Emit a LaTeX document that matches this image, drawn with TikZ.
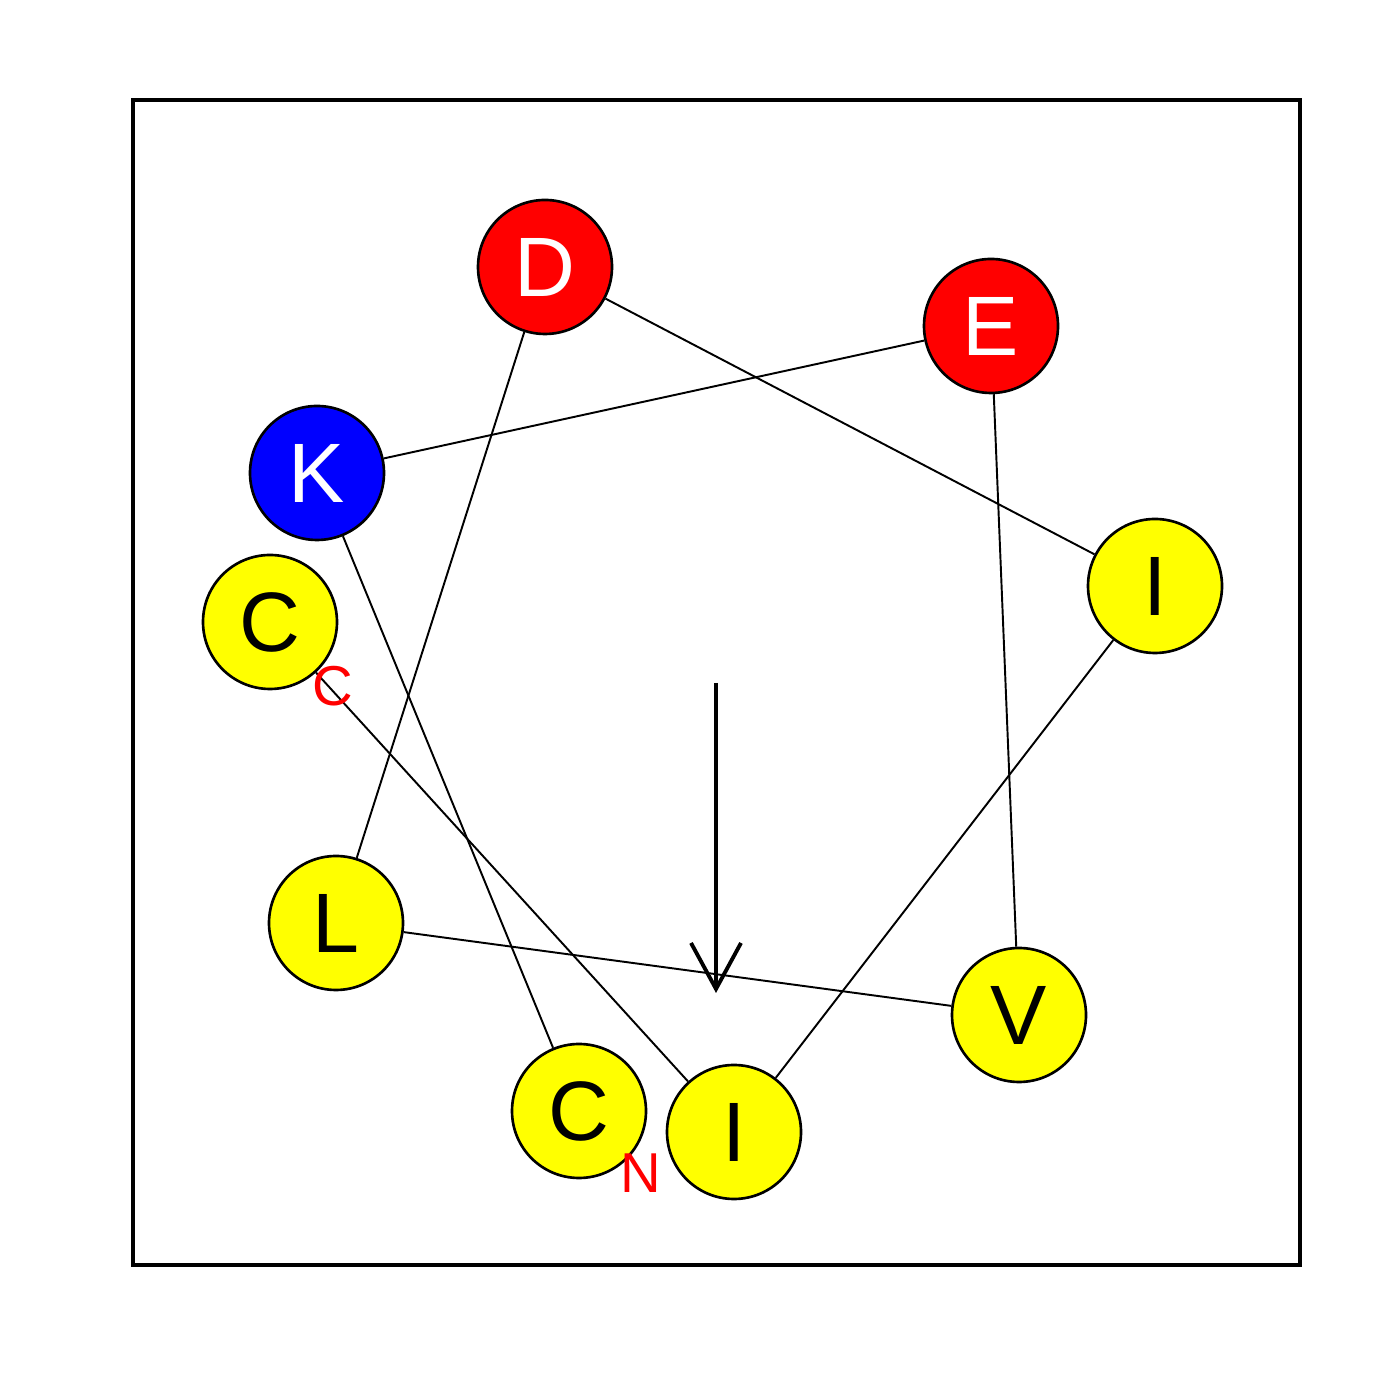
\documentclass[tikz,border=0pt]{standalone}
\usepackage{fontspec}
\setmainfont{Liberation Sans}
\usetikzlibrary{arrows.meta, backgrounds}
\definecolor{hydroyellow}{RGB}{255, 255, 0}
\definecolor{acidred}{RGB}{255, 0, 0}
\definecolor{basicblue}{RGB}{0, 0, 255}

\begin{document}
\begin{tikzpicture}[
    resbox/.style={circle, draw=black, line width=0.75pt, minimum size=1.34cm, inner sep=0pt, font=\fontsize{24}{24}\selectfont},
    hydrobox/.style={resbox, fill=hydroyellow, text=black},
    acidbox/.style={resbox, fill=acidred, text=white},
    basicbox/.style={resbox, fill=basicblue, text=white},
    link/.style={line width=0.55pt},
    term/.style={text=acidred, inner sep=0pt, font=\fontsize{16}{16}\selectfont},
    moment/.style={-{Straight Barb[length=0.46cm, width=0.5cm]}, line width=1.1pt}
]
    \useasboundingbox (0,0) rectangle (14,14);
    \draw[line width=0.9pt] (1.33,1.35) rectangle (13.0,13.0);

    % residues, in sequence order
    \node[hydrobox] (c1) at (5.79,2.89) {C};
    \node[basicbox] (k2) at (3.17,9.27) {K};
    \node[acidbox] (e3) at (9.91,10.74) {E};
    \node[hydrobox] (v4) at (10.19,3.85) {V};
    \node[hydrobox] (l5) at (3.36,4.77) {L};
    \node[acidbox] (d6) at (5.45,11.33) {D};
    \node[hydrobox] (i7) at (11.55,8.14) {I};
    \node[hydrobox] (i8) at (7.34,2.68) {I};
    \node[hydrobox] (c9) at (2.70,7.78) {C};

    \begin{scope}[on background layer]
        \draw[link] (c1) -- (k2);
        \draw[link] (k2) -- (e3);
        \draw[link] (e3) -- (v4);
        \draw[link] (v4) -- (l5);
        \draw[link] (l5) -- (d6);
        \draw[link] (d6) -- (i7);
        \draw[link] (i7) -- (i8);
        \draw[link] (i8) -- (c9);
    \end{scope}

    \node[term] (nterm) at (6.41,2.27) {N};
    \node[term] (cterm) at (3.33,7.14) {C};

    \coordinate (mtail) at (7.16,7.17);
    \coordinate (mhead) at (7.16,4.07);
    \draw[moment] (mtail) -- (mhead);
\end{tikzpicture}
\end{document}
